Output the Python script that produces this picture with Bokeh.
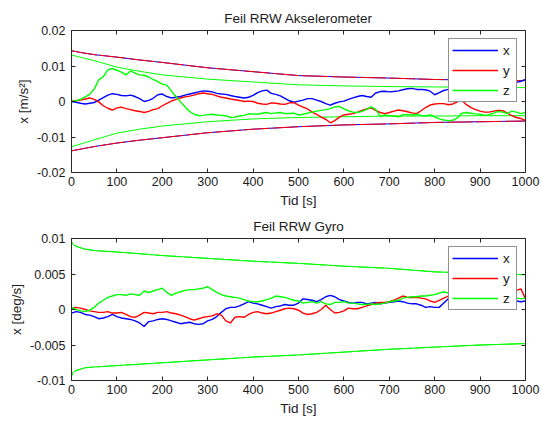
import numpy as np
from bokeh.plotting import figure
from bokeh.layouts import column
from bokeh.models import (LinearAxis, FixedTicker, Legend, LegendItem, Range1d,
                          CustomJSTickFormatter)
from bokeh.embed import file_html
from bokeh.resources import INLINE

# ---------------- data (values in units of 1e-3) ----------------
t = list(range(0, 1001, 10))

acc_x = [0, -0.2, -0.5, -0.7, -0.5, -0.3, 0.4, 1.1, 1.8, 2.2,
         2.0, 1.7, 1.6, 1.8, 1.4, 0.8, 0.0, 0.3, 0.9, 1.9,
         2.1, 1.4, 1.0, 1.2, 1.4, 1.8, 2.1, 2.4, 2.7, 3.0,
         2.9, 2.7, 2.3, 2.1, 2.0, 1.7, 1.4, 1.2, 1.0, 1.2,
         1.7, 2.5, 3.0, 3.2, 2.3, 2.0, 1.6, 0.9, 0.2, -0.2,
         0.1, 0.4, 0.8, 0.8, 0.4, 0.0, -0.6, -1.0, -0.5, -0.1,
         0.1, 0.6, 1.0, 1.4, 1.7, 1.4, 1.2, 2.4, 2.8, 2.9,
         2.7, 2.8, 3.0, 3.3, 3.6, 3.7, 3.4, 3.4, 3.3, 2.9,
         1.9, 2.5, 3.1, 3.4, 3.5, 3.8, 4.0, 3.9, 4.2, 4.4,
         4.3, 4.6, 4.8, 4.7, 5.0, 5.1, 5.0, 5.3, 5.4, 5.7,
         6.2]
acc_y = [0, 0.2, 0.4, 0.7, 1.0, 0.6, -0.1, -1.2, -1.9, -2.4,
         -1.8, -1.6, -2.0, -2.3, -2.6, -2.8, -3.1, -2.8, -2.3, -2.0,
         -1.2, -0.5, 0.1, 0.6, 1.0, 1.3, 1.5, 1.8, 2.2, 2.4,
         2.2, 2.0, 1.6, 1.2, 1.0, 0.7, 0.5, 0.3, 0.0, 0.1,
         0.0, -0.5, -0.7, -0.8, -0.4, -0.5, -0.7, -0.8, -0.4, -0.3,
         -1.0, -1.6, -2.1, -3.0, -3.6, -4.4, -5.0, -6.0, -5.4, -4.4,
         -3.8, -3.6, -3.4, -3.0, -2.5, -2.1, -1.8, -2.5, -3.1, -3.4,
         -3.1, -2.7, -2.4, -2.6, -2.9, -3.2, -3.4, -2.6, -1.7, -1.0,
         -0.7, -0.6, -0.6, -0.9, -0.7, -0.1, 0.3, -0.9, -1.7, -2.3,
         -2.7, -3.0, -3.0, -2.7, -2.5, -2.6, -3.3, -4.0, -4.5, -4.8,
         -5.3]
acc_z = [0, 0.2, 0.6, 1.3, 2.0, 3.5, 6.1, 7.0, 8.9, 9.3,
         8.8, 8.3, 7.5, 8.6, 8.0, 7.5, 7.4, 6.9, 6.2, 5.6,
         4.9, 4.6, 3.0, 1.4, -0.1, -1.5, -2.8, -3.6, -4.0, -3.9,
         -3.7, -3.6, -3.8, -3.9, -4.0, -4.5, -4.4, -4.1, -3.9, -3.5,
         -3.5, -3.6, -3.3, -3.1, -3.4, -3.2, -3.1, -3.4, -3.4, -3.3,
         -3.8, -3.6, -3.3, -3.0, -2.7, -2.5, -2.3, -2.0, -1.5, -1.4,
         -2.1, -2.6, -3.0, -3.1, -2.8, -2.2, -1.5, -2.2, -4.2, -3.8,
         -4.0, -4.1, -4.3, -3.7, -3.7, -3.8, -3.6, -3.9, -4.0, -3.8,
         -4.3, -4.9, -5.2, -5.4, -5.3, -4.6, -3.3, -3.1, -3.3, -3.5,
         -3.6, -3.9, -3.7, -3.3, -2.8, -3.0, -3.4, -2.7, -3.0, -3.4,
         -3.1]

acc_bound_t = [0, 25, 50, 100, 150, 200, 300, 400, 500, 600, 700, 800, 900, 1000]
acc_xy_up = [14.3, 13.7, 13.2, 12.5, 11.7, 11.0, 9.5, 8.4, 7.3, 6.9, 6.6, 6.2, 6.0, 5.9]
acc_xy_lo = [-13.9, -13.3, -12.7, -11.7, -10.9, -10.2, -8.8, -7.8, -7.1, -6.6, -6.3, -5.9, -5.7, -5.5]
acc_z_up = [13.1, 12.3, 11.5, 9.7, 8.5, 7.5, 6.3, 5.5, 4.7, 4.4, 4.2, 4.1, 4.0, 3.9]
acc_z_lo = [-12.7, -11.8, -10.8, -8.9, -7.8, -6.9, -5.7, -4.9, -4.5, -4.3, -4.1, -4.1, -4.0, -4.0]

gyro_x = [-0.5, -0.3, -0.4, -0.7, -0.8, -1.0, -1.3, -1.2, -1.0, -0.7,
          -1.0, -1.2, -1.3, -1.4, -1.6, -1.9, -2.4, -1.7, -1.6, -1.4,
          -1.3, -1.4, -1.6, -1.8, -2.0, -1.9, -1.8, -2.0, -2.1, -2.0,
          -1.6, -1.4, -1.0, -0.4, 0.1, 0.3, 0.3, 0.5, 0.8, 1.1,
          0.9, 0.8, 0.6, 0.4, 0.2, 0.4, 0.5, 0.7, 0.6, 0.6,
          0.9, 1.5, 1.4, 1.3, 1.1, 1.4, 1.8, 2.0, 1.8, 1.4,
          1.2, 1.0, 0.9, 1.0, 1.0, 0.8, 0.9, 1.0, 0.8, 0.9,
          1.0, 1.1, 1.2, 1.1, 0.9, 0.8, 0.8, 0.6, 0.3, 0.4,
          0.3, 0.3, 0.9, 1.5, 1.6, 1.5, 1.7, 1.6, 1.4, 1.5,
          1.6, 1.4, 1.5, 1.3, 1.4, 1.2, 1.3, 1.4, 1.2, 1.1,
          1.2]
gyro_y = [0.2, 0.3, 0.2, 0.0, -0.2, -0.3, -0.4, -0.4, -0.3, -0.5,
          -0.5, -0.4, -0.7, -1.0, -1.1, -0.8, -0.4, -0.5, -0.6, -0.4,
          -0.4, -0.3, -0.5, -0.6, -0.8, -1.0, -1.3, -1.5, -1.3, -1.1,
          -1.0, -0.9, -0.6, -0.8, -1.6, -1.9, -1.1, -1.0, -1.1, -0.7,
          -0.4, -0.3, -0.5, -0.6, -0.5, -0.3, -0.1, 0.1, 0.2, 0.1,
          -0.1, -0.5, -0.7, -0.6, -0.4, 0.0, 0.6, 0.0, -0.5, -0.4,
          -0.2, 0.2, 0.1, 0.1, 0.3, 0.5, 0.7, 0.9, 1.0, 1.0,
          1.1, 1.3, 1.6, 1.9, 1.7, 1.7, 1.7, 1.6, 1.5, 1.2,
          1.0, 1.3, 1.6, 1.9, 1.8, 1.7, 1.9, 2.1, 2.0, 2.2,
          2.3, 2.1, 2.4, 2.2, 2.5, 2.4, 2.6, 2.5, 2.7, 2.9,
          1.5]
gyro_z = [0.3, 0.0, -0.2, -0.3, -0.1, 0.3, 0.9, 1.3, 1.7, 1.9,
          2.1, 2.1, 2.0, 2.2, 2.1, 2.0, 2.6, 2.4, 2.6, 2.8,
          3.0, 2.4, 2.0, 2.3, 2.5, 2.7, 2.8, 2.8, 2.9, 3.0,
          3.2, 2.8, 2.4, 2.1, 1.9, 1.8, 1.7, 1.6, 1.4, 1.2,
          1.1, 1.1, 1.2, 1.4, 1.6, 1.9, 1.8, 1.7, 1.5, 1.3,
          1.2, 0.9, 1.0, 1.1, 0.9, 1.1, 0.8, 0.7, 1.0, 1.0,
          1.1, 0.9, 0.9, 0.8, 0.7, 0.7, 0.8, 0.7, 0.8, 0.9,
          1.1, 1.2, 1.3, 1.6, 1.7, 1.8, 1.8, 1.9, 1.9, 2.0,
          2.1, 2.3, 2.5, 2.3, 2.4, 2.2, 2.3, 2.1, 2.0, 1.9,
          2.0, 1.8, 1.9, 1.7, 1.8, 1.6, 1.7, 1.5, 1.6, 1.5,
          1.6]

gyro_bound_t = [0, 2, 5, 10, 20, 30, 50, 100, 200, 300, 400, 500, 600, 700, 800, 900, 1000]
gyro_z_up = [9.6, 9.3, 9.1, 8.9, 8.7, 8.5, 8.3, 8.1, 7.6, 7.2, 6.8, 6.5, 6.1, 5.8, 5.3, 5.1, 4.9]
gyro_z_lo = [-9.4, -9.0, -8.8, -8.6, -8.4, -8.2, -8.1, -7.9, -7.5, -7.1, -6.7, -6.4, -6.0, -5.6, -5.3, -5.0, -4.8]

x_ticks = [0, 100, 200, 300, 400, 500, 600, 700, 800, 900, 1000]
acc_y_ticks = [-0.02, -0.01, 0, 0.01, 0.02]
acc_y_labels = ["-0.02", "-0.01", "0", "0.01", "0.02"]
gyro_y_ticks = [-0.01, -0.005, 0, 0.005, 0.01]
gyro_y_labels = ["-0.01", "-0.005", "0", "0.005", "0.01"]
series_names = ["x", "y", "z"]

# ---------------- style ----------------
FONT = "Liberation Sans"
TXT = "#1a1a1a"
AX = "#262626"
BLUE, RED, GREEN = "#0000ff", "#ff0000", "#00ff00"
SCALE = 1e-3


def style_axis(ax, labels=True):
    ax.major_tick_in = 4
    ax.major_tick_out = 0
    ax.minor_tick_line_color = None
    ax.axis_line_color = AX
    ax.major_tick_line_color = AX
    ax.major_label_text_font = FONT
    ax.major_label_text_font_size = "12.5px"
    ax.major_label_text_color = TXT
    ax.axis_label_text_font = FONT
    ax.axis_label_text_font_size = "13.5px"
    ax.axis_label_text_font_style = "normal"
    ax.axis_label_text_color = TXT
    if not labels:
        ax.formatter = CustomJSTickFormatter(code="return ''")
        ax.major_label_standoff = 0


def make_panel(title, ylabel, yr, yticks, ylabels, walks, bounds, height, btop, bbot):
    p = figure(width=540, height=height, output_backend="svg", toolbar_location=None,
               x_range=Range1d(0, 1000), y_range=Range1d(*yr),
               min_border_left=71, min_border_right=15,
               min_border_top=btop, min_border_bottom=bbot)
    p.title.text = title
    p.title.align = "center"
    p.title.text_font = FONT
    p.title.text_font_size = "13.5px"
    p.title.text_font_style = "normal"
    p.title.text_color = TXT
    p.title.standoff = 10
    p.grid.visible = False
    p.outline_line_color = None
    p.background_fill_color = "white"
    p.border_fill_color = "white"

    p.xaxis.ticker = FixedTicker(ticks=x_ticks)
    p.yaxis.ticker = FixedTicker(ticks=yticks)
    p.yaxis.major_label_overrides = dict(zip(yticks, ylabels))
    p.xaxis.axis_label = "Tid [s]"
    p.yaxis.axis_label = ylabel
    for ax in p.xaxis + p.yaxis:
        style_axis(ax)
    p.xaxis.major_label_standoff = 4
    p.xaxis.axis_label_standoff = 4
    p.yaxis.major_label_standoff = 6
    p.yaxis.axis_label_standoff = 3

    ra = LinearAxis(ticker=FixedTicker(ticks=yticks))
    style_axis(ra, labels=False)
    p.add_layout(ra, "right")
    ta = LinearAxis(ticker=FixedTicker(ticks=x_ticks))
    style_axis(ta, labels=False)
    p.add_layout(ta, "above")

    # bounds
    for bt, vals, color, dash in bounds:
        p.line(bt, np.array(vals) * SCALE, line_color=color, line_width=1, line_dash=dash)

    # random walks
    items = []
    for name, vals, color in walks:
        r = p.line(t, np.array(vals) * SCALE, line_color=color, line_width=1.4)
        items.append(LegendItem(label=name, renderers=[r]))

    leg = Legend(items=items, location="top_right")
    leg.margin = 8
    leg.padding = 3
    leg.spacing = 4
    leg.glyph_width = 46
    leg.glyph_height = 16
    leg.label_height = 16
    leg.label_width = 10
    leg.label_standoff = 5
    leg.label_text_font = FONT
    leg.label_text_font_size = "13.5px"
    leg.label_text_color = TXT
    leg.border_line_color = AX
    leg.border_line_width = 1
    leg.background_fill_color = "white"
    leg.background_fill_alpha = 1.0
    p.add_layout(leg, "center")
    return p


top = make_panel(
    "Feil RRW Akselerometer", "x [m/s²]", (-0.02, 0.02), acc_y_ticks, acc_y_labels,
    [(series_names[0], acc_x, BLUE), (series_names[1], acc_y, RED), (series_names[2], acc_z, GREEN)],
    [(acc_bound_t, acc_xy_up, BLUE, "solid"), (acc_bound_t, acc_xy_lo, BLUE, "solid"),
     (acc_bound_t, acc_xy_up, RED, "26 3"), (acc_bound_t, acc_xy_lo, RED, "26 3"),
     (acc_bound_t, acc_z_up, GREEN, "solid"), (acc_bound_t, acc_z_lo, GREEN, "solid")],
    210, 30, 37)

bottom = make_panel(
    "Feil RRW Gyro", "x [deg/s]", (-0.01, 0.01), gyro_y_ticks, gyro_y_labels,
    [(series_names[0], gyro_x, BLUE), (series_names[1], gyro_y, RED), (series_names[2], gyro_z, GREEN)],
    [(gyro_bound_t, gyro_z_up, GREEN, "26 3"), (gyro_bound_t, gyro_z_lo, GREEN, "26 3"),
     (gyro_bound_t, gyro_z_up, GREEN, "solid"), (gyro_bound_t, gyro_z_lo, GREEN, "solid")],
    210, 28, 40)

layout = column(top, bottom, spacing=0)
open("out.html", "w").write(file_html(layout, INLINE))
